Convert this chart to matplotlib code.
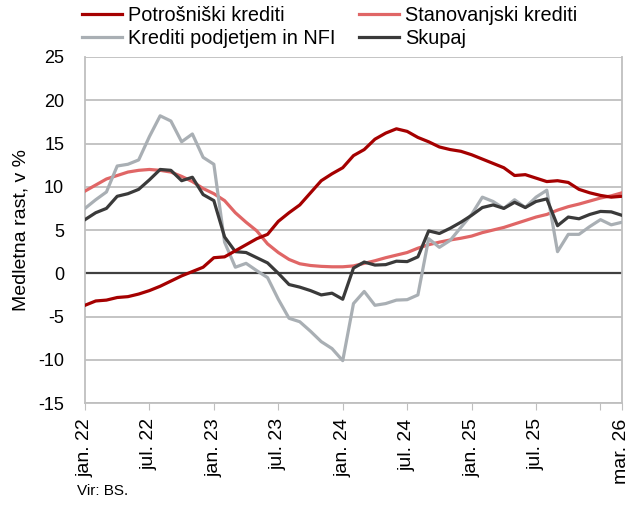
import numpy as np
import matplotlib
matplotlib.use("Agg")
import matplotlib.pyplot as plt

plt.rcParams['font.family'] = ['Liberation Sans', 'DejaVu Sans']
plt.rcParams['axes.unicode_minus'] = False

# monthly data, jan. 2022 - mar. 2026
potrosniski = [-3.7, -3.2, -3.1, -2.8, -2.7, -2.4, -2.0, -1.5, -0.9, -0.3,
               0.2, 0.7, 1.8, 1.9, 2.6, 3.3, 4.0, 4.5, 6.0, 7.0,
               7.9, 9.3, 10.7, 11.5, 12.2, 13.6, 14.3, 15.5, 16.2, 16.7,
               16.4, 15.7, 15.2, 14.6, 14.3, 14.1, 13.7, 13.2, 12.7, 12.2,
               11.3, 11.4, 11.0, 10.6, 10.7, 10.5, 9.7, 9.3, 9.0, 8.8, 8.9]
stanovanjski = [9.5, 10.2, 10.9, 11.3, 11.7, 11.9, 12.0, 11.9, 11.7, 11.2,
                10.6, 9.8, 9.2, 8.4, 7.0, 5.9, 4.9, 3.4, 2.4, 1.6,
                1.1, 0.9, 0.8, 0.75, 0.75, 0.85, 1.15, 1.45, 1.8, 2.1,
                2.4, 2.9, 3.3, 3.6, 3.85, 4.05, 4.3, 4.7, 5.0, 5.3,
                5.7, 6.1, 6.5, 6.8, 7.3, 7.7, 8.0, 8.35, 8.7, 8.95, 9.3]
podjetja_nfi = [7.5, 8.5, 9.4, 12.4, 12.6, 13.1, 15.8, 18.2, 17.6, 15.2,
                16.1, 13.4, 12.6, 3.6, 0.7, 1.15, 0.3, -0.5, -3.0, -5.2,
                -5.6, -6.7, -7.9, -8.7, -10.1, -3.5, -2.1, -3.7, -3.5, -3.1,
                -3.05, -2.5, 4.0, 3.0, 3.8, 5.3, 6.8, 8.8, 8.3, 7.5,
                8.5, 7.6, 8.8, 9.6, 2.5, 4.5, 4.5, 5.4, 6.2, 5.6, 5.9]
skupaj = [6.2, 7.0, 7.5, 8.9, 9.2, 9.7, 10.8, 12.0, 11.9, 10.7,
          11.1, 9.1, 8.4, 4.2, 2.5, 2.4, 1.8, 1.2, 0.0, -1.3,
          -1.6, -2.0, -2.5, -2.3, -3.0, 0.6, 1.3, 0.95, 1.0, 1.4,
          1.35, 1.9, 4.9, 4.6, 5.2, 5.9, 6.7, 7.6, 7.9, 7.5,
          8.2, 7.6, 8.3, 8.6, 5.5, 6.5, 6.3, 6.8, 7.15, 7.1, 6.7]

tick_pos = [0, 6, 12, 18, 24, 30, 36, 42, 48, 50]
tick_labels = ['jan. 22', 'jul. 22', 'jan. 23', 'jul. 23', 'jan. 24',
               'jul. 24', 'jan. 25', 'jul. 25', '', 'mar. 26']

x = np.arange(len(skupaj))

fig = plt.figure(figsize=(6.37, 5.07), dpi=100)
ax = fig.add_axes([0.1334, 0.205, 0.843, 0.6826])

grid_c = '#bfbfbf'
for v in range(-15, 30, 5):
    ax.axhline(v, color=grid_c, lw=1.3, zorder=1)
ax.axhline(0, color='#404040', lw=1.6, zorder=2)

lw = 2.3
l1, = ax.plot(x, potrosniski, color='#a50000', lw=lw, label='Potrošniški krediti', zorder=5)
l2, = ax.plot(x, stanovanjski, color='#e06666', lw=lw, label='Stanovanjski krediti', zorder=3)
l3, = ax.plot(x, podjetja_nfi, color='#a9afb4', lw=lw, label='Krediti podjetjem in NFI', zorder=3)
l4, = ax.plot(x, skupaj, color='#3a3a3a', lw=lw, label='Skupaj', zorder=4)

ax.set_xlim(0, 50)
ax.set_ylim(-15, 25)
ax.set_yticks(range(-15, 30, 5))
ax.set_xticks(tick_pos)
ax.set_xticklabels(tick_labels, rotation=90)
ax.tick_params(axis='y', length=0, labelsize=13, pad=15)
ax.tick_params(axis='x', length=5, color=grid_c, labelsize=14, pad=6)

ax.spines['top'].set_visible(False)
for s in ['left', 'bottom', 'right']:
    ax.spines[s].set_color(grid_c)
    ax.spines[s].set_linewidth(1.3)

ax.set_ylabel('Medletna rast, v %', fontsize=14, labelpad=6)

# row-major order like the original legend
leg = fig.legend([l1, l3, l2, l4],
                 [l1.get_label(), l3.get_label(), l2.get_label(), l4.get_label()],
                 ncol=2, loc='upper left', bbox_to_anchor=(0.101, 1.024),
                 frameon=False, fontsize=14.3, handlelength=2.0,
                 handletextpad=0.3, columnspacing=1.2, labelspacing=0.2)

fig.text(0.121, 0.032, 'Vir: BS.', fontsize=11, va='center')

fig.savefig('out.png', dpi=100)
